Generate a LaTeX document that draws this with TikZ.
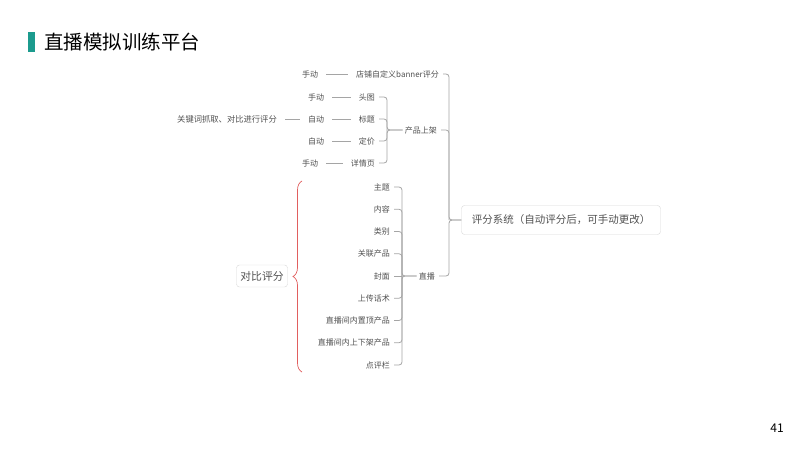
\documentclass[tikz,border=0pt]{standalone}
\usepackage{fontspec}
\setmainfont{Noto Sans CJK SC}
\usetikzlibrary{decorations.pathreplacing}
\definecolor{tealBar}{RGB}{28,155,142}
\definecolor{txtGris}{RGB}{80,80,80}
\definecolor{ligneGris}{RGB}{165,165,165}
\definecolor{cadreGris}{RGB}{215,215,215}
\definecolor{rougeBrace}{RGB}{225,95,95}

\begin{document}
\begin{tikzpicture}[x=1pt,y=-1pt,
		leaf/.style={font=\fontsize{8}{9}\selectfont, text=txtGris, inner sep=2pt},
		root/.style={draw=cadreGris, rounded corners=3pt, font=\fontsize{10.5}{12}\selectfont,
			text=txtGris, minimum width=199pt, minimum height=29pt, inner sep=4pt},
		box/.style={draw=cadreGris, rounded corners=3pt, font=\fontsize{10.8}{12}\selectfont,
			text=txtGris, minimum width=51pt, minimum height=22pt, inner sep=3pt},
		link/.style={draw=ligneGris, line width=0.8pt, rounded corners=3pt, shorten <=2pt},
		dash link/.style={draw=ligneGris, line width=0.8pt, shorten <=6pt, shorten >=6pt}
		]
		\useasboundingbox (0,0) rectangle (800,450);
		\fill[tealBar] (28,32) rectangle (35,52);
		\node[anchor=west, font=\fontsize{19.5}{22}\selectfont, inner sep=0pt] (title) at (44,42) {直播模拟训练平台};
		\node[font=\fontsize{12}{14}\selectfont] (page) at (777,428) {41};
		
		\node[root] (root) at (561,220) {评分系统（自动评分后，可手动更改）};
		\node[leaf, anchor=east] (banner) at (441,74)  {店铺自定义banner评分};
		\node[leaf, anchor=east] (produit) at (439,130) {产品上架};
		\node[leaf, anchor=east] (live) at (437,276)    {直播};
		\node[leaf] (bannerMode) at (310,74) {手动};
		
		% produit
		\node[leaf, anchor=east] (tete) at (377,97)    {头图};
		\node[leaf, anchor=east] (titre) at (377,119)  {标题};
		\node[leaf, anchor=east] (prix) at (377,141)   {定价};
		\node[leaf, anchor=east] (detail) at (377,163) {详情页};
		\node[leaf] (teteMode) at (316,97)    {手动};
		\node[leaf] (titreMode) at (316,119)  {自动};
		\node[leaf] (prixMode) at (316,141)   {自动};
		\node[leaf] (detailMode) at (310,163) {手动};
		\node[leaf, font=\fontsize{8.3}{9}\selectfont] (motcle) at (227,119) {关键词抓取、对比进行评分};
		
		% live
		\node[leaf, anchor=east] (sujet) at (392,187)        {主题};
		\node[leaf, anchor=east] (contenu) at (392,209.25)   {内容};
		\node[leaf, anchor=east] (categorie) at (392,231.5)  {类别};
		\node[leaf, anchor=east] (lien) at (392,253.75)      {关联产品};
		\node[leaf, anchor=east] (couverture) at (392,276)   {封面};
		\node[leaf, anchor=east] (discours) at (392,298.25)  {上传话术};
		\node[leaf, anchor=east] (epingle) at (392,320.5)    {直播间内置顶产品};
		\node[leaf, anchor=east] (rayon) at (392,342.75)     {直播间内上下架产品};
		\node[leaf, anchor=east] (avis) at (392,365)         {点评栏};
		\node[box] (compare) at (262,276) {对比评分};
		
		\coordinate (jRoot) at (449,220);
		\coordinate (jProd) at (387,130);
		\coordinate (jLive) at (402,276);
		\coordinate (braceBas) at (302,372);
		\coordinate (braceHaut) at (302,181);
		
		\draw[link] (banner.east) -| (jRoot) -- (root.west);
		\draw[link] (produit.east) -| (jRoot);
		\draw[link] (live.east) -| (jRoot) -- (root.west);
		
		\draw[link] (tete.east) -| (jProd) -- (produit.west);
		\draw[link] (titre.east) -| (jProd);
		\draw[link] (prix.east) -| (jProd);
		\draw[link] (detail.east) -| (jProd) -- (produit.west);
		
		\draw[link] (sujet.east) -| (jLive) -- (live.west);
		\draw[link] (contenu.east) -| (jLive);
		\draw[link] (categorie.east) -| (jLive);
		\draw[link] (lien.east) -| (jLive);
		\draw[link] (couverture.east) -- (jLive);
		\draw[link] (discours.east) -| (jLive);
		\draw[link] (epingle.east) -| (jLive);
		\draw[link] (rayon.east) -| (jLive);
		\draw[link] (avis.east) -| (jLive) -- (live.west);
		
		\draw[dash link] (bannerMode) -- (banner);
		\draw[dash link] (teteMode) -- (tete);
		\draw[dash link] (titreMode) -- (titre);
		\draw[dash link] (prixMode) -- (prix);
		\draw[dash link] (detailMode) -- (detail);
		\draw[dash link] (motcle) -- (titreMode);
		
		\draw[rougeBrace, line width=0.7pt, decorate, decoration={brace, amplitude=9pt}] (braceBas) -- (braceHaut);
	\end{tikzpicture}
\end{document}
